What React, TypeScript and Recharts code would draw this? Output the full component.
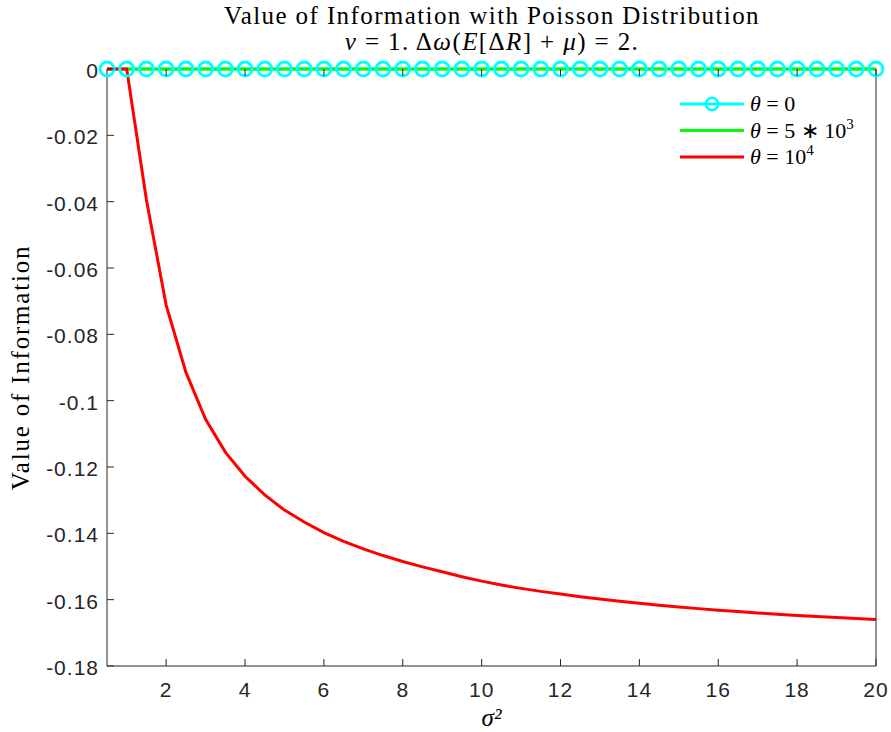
import React from "react";
import { LineChart, Line, XAxis, YAxis } from "recharts";

const sigma2 = [
  0.5, 1, 1.5, 2, 2.5, 3, 3.5, 4, 4.5, 5, 5.5, 6, 6.5, 7, 7.5, 8, 8.5, 9, 9.5, 10,
  10.5, 11, 11.5, 12, 12.5, 13, 13.5, 14, 14.5, 15, 15.5, 16, 16.5, 17, 17.5, 18,
  18.5, 19, 19.5, 20,
];
const thetaZero = sigma2.map(() => 0);
const thetaMid = sigma2.map(() => 0);
const thetaHigh = [
  0, 0, -0.0395, -0.0712, -0.0914, -0.1056, -0.1155, -0.1228, -0.1284, -0.133,
  -0.1366, -0.1398, -0.1424, -0.1447, -0.1467, -0.1485, -0.1501, -0.1516, -0.1531,
  -0.1544, -0.1556, -0.1566, -0.1575, -0.1583, -0.1591, -0.1598, -0.1605, -0.1611,
  -0.1617, -0.1622, -0.1627, -0.1632, -0.1636, -0.164, -0.1644, -0.1648, -0.1651,
  -0.1654, -0.1657, -0.166,
];
const xTicks = [2, 4, 6, 8, 10, 12, 14, 16, 18, 20];
const yTicks = [0, -0.02, -0.04, -0.06, -0.08, -0.1, -0.12, -0.14, -0.16, -0.18];

const rows = sigma2.map((s, i) => ({
  s,
  zero: thetaZero[i],
  mid: thetaMid[i],
  high: thetaHigh[i],
}));

const AXIS = "#262626";
const TICK_FONT = "'Liberation Sans', Arial, sans-serif";
const SERIF = "'Liberation Serif', 'Times New Roman', serif";

const BottomTick = (props: any) => {
  const { x, y, payload } = props;
  return (
    <g>
      <line x1={x} x2={x} y1={y} y2={y - 7} stroke={AXIS} />
      <text x={x} y={y + 31} textAnchor="middle" fontSize={21} letterSpacing={1} fontFamily={TICK_FONT} fill={AXIS}>
        {payload.value}
      </text>
    </g>
  );
};

const TopTick = (props: any) => {
  const { x, y } = props;
  return <line x1={x} x2={x} y1={y} y2={y + 7} stroke={AXIS} />;
};

const LeftTick = (props: any) => {
  const { x, y, payload } = props;
  return (
    <g>
      <line x1={x} x2={x + 7} y1={y} y2={y} stroke={AXIS} />
      <text x={x - 8} y={y + 9} textAnchor="end" fontSize={21} letterSpacing={1} fontFamily={TICK_FONT} fill={AXIS}>
        {String(Number(payload.value.toFixed(2)))}
      </text>
    </g>
  );
};

const RightTick = (props: any) => {
  const { x, y } = props;
  return <line x1={x} x2={x - 7} y1={y} y2={y} stroke={AXIS} />;
};

const legendItems = [
  { color: "#00ffff", marker: true, label: <>= 0</> },
  { color: "#00ff00", marker: false, label: <>= 5 ∗ 10<tspan dy={-9} fontSize={15}>3</tspan></> },
  { color: "#ff0000", marker: false, label: <>= 10<tspan dy={-9} fontSize={15}>4</tspan></> },
];

const Overlay = () => (
  <svg width={891} height={732} style={{ position: "absolute", left: 0, top: 0, pointerEvents: "none" }}>
    <g fontFamily={SERIF} fontSize={25} fill="#000" textAnchor="middle" letterSpacing={1.4}>
      <text x={492} y={24}>Value of Information with Poisson Distribution</text>
      <text x={492} y={50}>
        <tspan fontStyle="italic">ν</tspan> = 1. Δ<tspan fontStyle="italic">ω</tspan>(<tspan fontStyle="italic">E</tspan>[Δ<tspan fontStyle="italic">R</tspan>] + <tspan fontStyle="italic">μ</tspan>) = 2.
      </text>
    </g>
    <g transform="translate(680, 104)">
      {legendItems.map((it, i) => {
        const cy = i * 26.5;
        return (
          <g key={i}>
            <line x1={0} x2={64} y1={cy} y2={cy} stroke={it.color} strokeWidth={3} />
            {it.marker && <circle cx={32} cy={cy} r={6.2} fill="none" stroke={it.color} strokeWidth={2.6} />}
            <text x={70} y={cy + 7} fontSize={22} fontFamily={SERIF} fill="#000">
              <tspan fontStyle="italic">θ</tspan> {it.label}
            </text>
          </g>
        );
      })}
    </g>
  </svg>
);

export default function App() {
  return (
    <div style={{ position: "absolute", left: 0, top: 0, width: 891, height: 732, background: "#fff" }}>
      <LineChart width={891} height={732} data={rows} margin={{ top: 0, right: 0, bottom: 0, left: 0 }}>
        <XAxis
          dataKey="s"
          type="number"
          domain={[0.5, 20]}
          ticks={xTicks}
          height={66}
          stroke={AXIS}
          tickLine={false}
          tickSize={0}
          tickMargin={0}
          tick={<BottomTick />}
          label={{ value: "σ²", position: "insideBottom", offset: 6, style: { fontFamily: SERIF, fontStyle: "italic", fontSize: 25, fill: "#000" } }}
        />
        <XAxis
          xAxisId="top"
          orientation="top"
          dataKey="s"
          type="number"
          domain={[0.5, 20]}
          ticks={xTicks}
          height={69}
          stroke={AXIS}
          axisLine={false}
          tickLine={false}
          tickSize={0}
          tickMargin={0}
          tick={<TopTick />}
        />
        <YAxis
          type="number"
          domain={[-0.18, 0]}
          ticks={yTicks}
          width={107}
          stroke={AXIS}
          tickLine={false}
          tickSize={0}
          tickMargin={0}
          tick={<LeftTick />}
          label={{ value: "Value of Information", angle: -90, position: "insideLeft", offset: 20, style: { textAnchor: "middle", fontFamily: SERIF, fontSize: 25, letterSpacing: 1.8, fill: "#000" } }}
        />
        <YAxis
          yAxisId="right"
          orientation="right"
          type="number"
          domain={[-0.18, 0]}
          ticks={yTicks}
          width={15}
          stroke={AXIS}
          tickLine={false}
          tickSize={0}
          tickMargin={0}
          tick={<RightTick />}
        />
        <Line
          dataKey="zero"
          stroke="#00ffff"
          strokeWidth={3}
          dot={{ r: 7, fill: "none", stroke: "#00ffff", strokeWidth: 2.8 }}
          isAnimationActive={false}
        />
        <Line dataKey="mid" stroke="#00ff00" strokeWidth={3} dot={false} isAnimationActive={false} />
        <Line dataKey="high" stroke="#ff0000" strokeWidth={3} dot={false} isAnimationActive={false} />
      </LineChart>
      <Overlay />
    </div>
  );
}
